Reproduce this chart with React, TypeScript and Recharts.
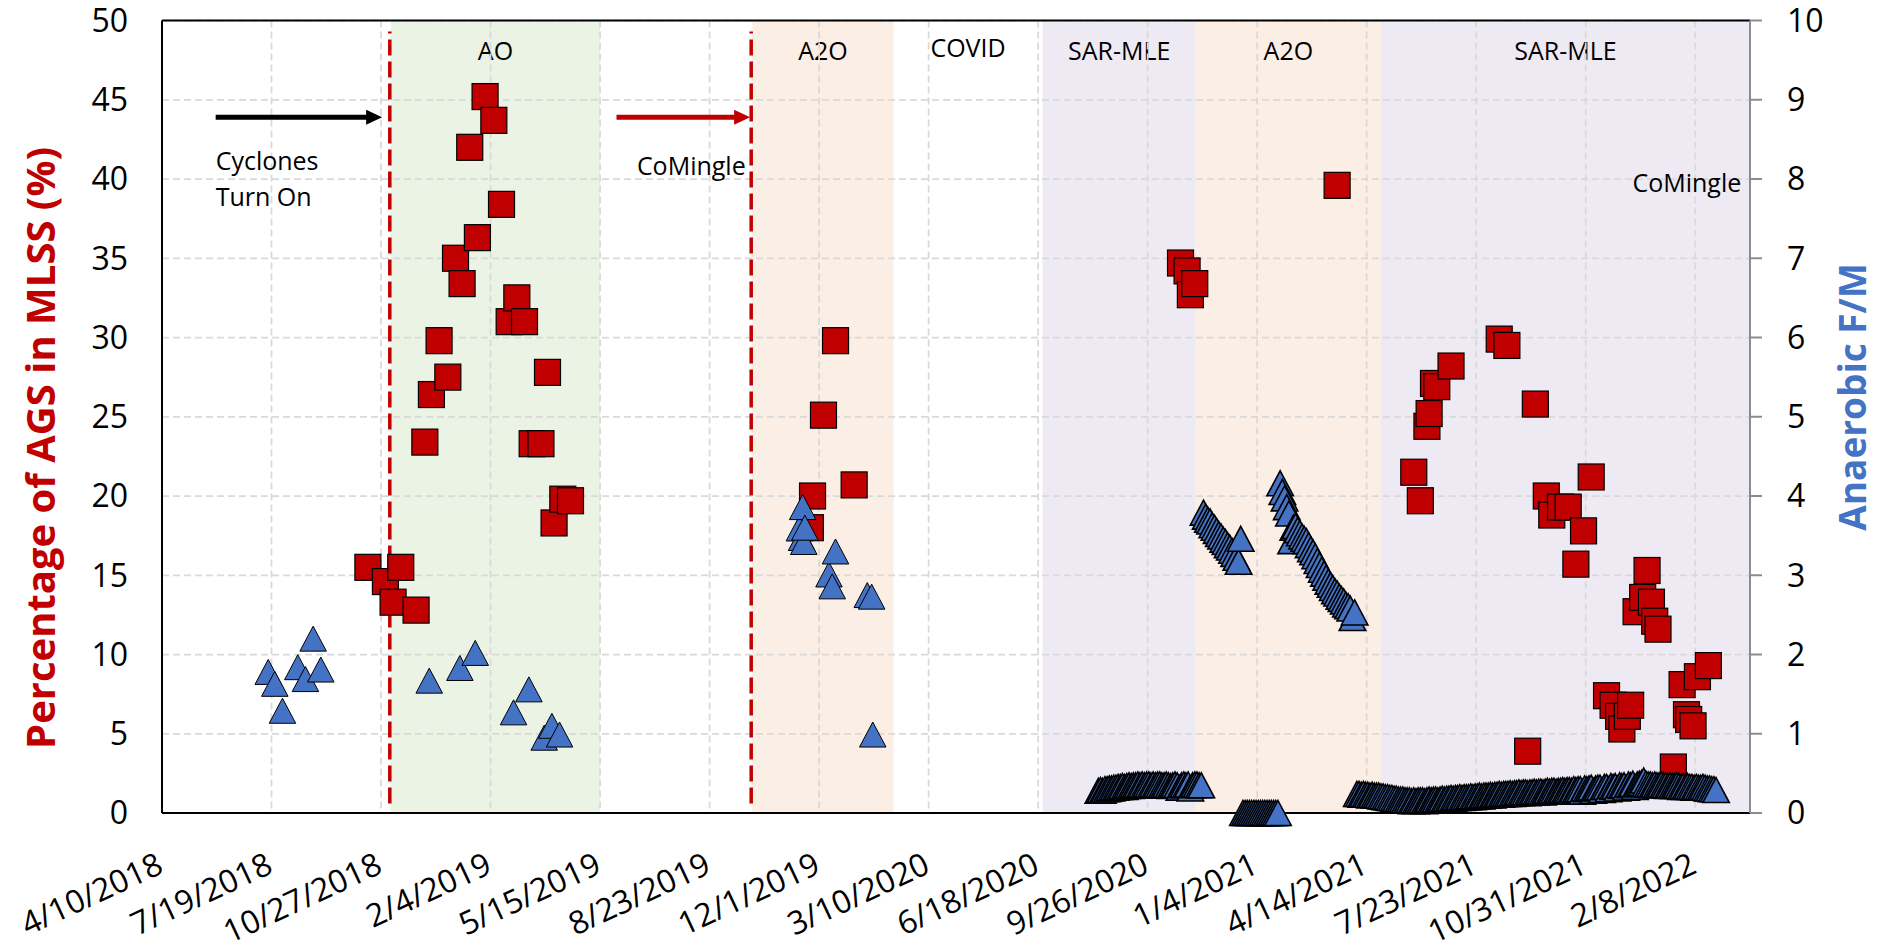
// AGS share in MLSS (red squares, left axis) against anaerobic F/M
// (blue triangles, right axis), with the process phases shaded behind.
import {
  ComposedChart,
  Scatter,
  XAxis,
  YAxis,
  CartesianGrid,
  ReferenceArea,
  ReferenceLine,
  ReferenceDot,
} from 'recharts';

type Pt = [string, number];
interface Run {
  start: string;
  step: number;
  values: number[];
}

// ---- axes ----
const xTickLabels = [
  '4/10/2018', '7/19/2018', '10/27/2018', '2/4/2019', '5/15/2019',
  '8/23/2019', '12/1/2019', '3/10/2020', '6/18/2020', '9/26/2020',
  '1/4/2021', '4/14/2021', '7/23/2021', '10/31/2021', '2/8/2022',
];
const xEnd = '3/30/2022';
const agsTicks = [0, 5, 10, 15, 20, 25, 30, 35, 40, 45, 50];
const fmTicks = [0, 1, 2, 3, 4, 5, 6, 7, 8, 9, 10];

// ---- phases ----
const phaseNames = ['AO', 'A2O', 'COVID', 'SAR-MLE', 'A2O', 'SAR-MLE'];
const phaseStarts = ['11/5/2018', '10/1/2019', '2/7/2020', '6/22/2020', '11/9/2020', '4/27/2021'];
const phaseEnds = ['5/15/2019', '2/7/2020', '6/22/2020', '11/9/2020', '4/27/2021', '3/30/2022'];
const switchDates = ['11/4/2018', '9/30/2019'];

// ---- % AGS in MLSS ----
const agsAO: Pt[] = [
  ['10/15/2018', 15.5], ['10/31/2018', 14.6], ['11/7/2018', 13.3], ['11/14/2018', 15.5],
  ['11/28/2018', 12.8], ['12/6/2018', 23.4], ['12/12/2018', 26.4], ['12/19/2018', 29.8],
  ['12/27/2018', 27.5], ['1/3/2019', 35.0], ['1/9/2019', 33.4], ['1/16/2019', 42.0],
  ['1/23/2019', 36.3], ['1/30/2019', 45.2], ['2/7/2019', 43.7], ['2/14/2019', 38.4],
  ['2/21/2019', 31.0], ['2/28/2019', 32.5], ['3/7/2019', 31.0], ['3/14/2019', 23.3],
  ['3/22/2019', 23.3], ['3/28/2019', 27.8], ['4/3/2019', 18.3], ['4/11/2019', 19.8],
  ['4/18/2019', 19.7],
];
const agsA2O: Pt[] = [
  ['11/23/2019', 18.0], ['11/25/2019', 20.0], ['12/5/2019', 25.1], ['12/16/2019', 29.8],
  ['1/2/2020', 20.7],
];
const agsSarMle1: Pt[] = [
  ['10/26/2020', 34.7], ['11/1/2020', 34.2], ['11/4/2020', 32.7], ['11/8/2020', 33.4],
];
const agsA2O2: Pt[] = [['3/18/2021', 39.6]];
const agsSarMle2: Pt[] = [
  ['5/27/2021', 21.5], ['6/2/2021', 19.7], ['6/8/2021', 24.4], ['6/10/2021', 25.2],
  ['6/14/2021', 27.1], ['6/17/2021', 26.9], ['6/30/2021', 28.2], ['8/13/2021', 29.9],
  ['8/20/2021', 29.5], ['9/8/2021', 3.9], ['9/15/2021', 25.8], ['9/25/2021', 20.0],
  ['9/30/2021', 18.8], ['10/8/2021', 19.3], ['10/15/2021', 19.3], ['10/22/2021', 15.7],
  ['10/29/2021', 17.8], ['11/5/2021', 21.2], ['11/19/2021', 7.4], ['11/25/2021', 6.8],
  ['11/30/2021', 6.1], ['12/3/2021', 5.3], ['12/8/2021', 6.1], ['12/11/2021', 6.8],
  ['12/16/2021', 12.7], ['12/22/2021', 13.6], ['12/26/2021', 15.3], ['12/30/2021', 13.3],
  ['1/2/2022', 12.1], ['1/5/2022', 11.6], ['1/19/2022', 2.9], ['1/27/2022', 8.1],
  ['1/31/2022', 6.2], ['2/2/2022', 5.9], ['2/6/2022', 5.5], ['2/10/2022', 8.6],
  ['2/20/2022', 9.3],
];

// ---- anaerobic F/M ----
const fmPre: Pt[] = [
  ['7/16/2018', 1.78], ['7/22/2018', 1.63], ['7/29/2018', 1.29], ['8/12/2018', 1.84],
  ['8/19/2018', 1.69], ['8/26/2018', 2.2], ['9/2/2018', 1.81],
];
const fmAO: Pt[] = [
  ['12/10/2018', 1.67], ['1/7/2019', 1.83], ['1/21/2019', 2.02], ['2/25/2019', 1.27],
  ['3/11/2019', 1.56], ['3/25/2019', 0.95], ['4/1/2019', 1.1], ['4/8/2019', 0.99],
];
const fmA2O: Pt[] = [
  ['11/13/2019', 3.59], ['11/15/2019', 3.47], ['11/16/2019', 3.86], ['11/17/2019', 3.42],
  ['11/18/2019', 3.6], ['12/10/2019', 3.01], ['12/13/2019', 2.86], ['12/16/2019', 3.3],
  ['1/14/2020', 2.75], ['1/18/2020', 2.73], ['1/19/2020', 0.99],
];
// daily logging from Aug 2020 on, read every second day
const fmSarMle1: Run = {
  start: '8/12/2020', step: 2,
  values: [
    0.28, 0.29, 0.28, 0.3, 0.3, 0.31, 0.31, 0.32, 0.32, 0.33,
    0.33, 0.34, 0.33, 0.34, 0.35, 0.34, 0.35, 0.35, 0.36, 0.35,
    0.36, 0.35, 0.36, 0.36, 0.35, 0.36, 0.35, 0.36, 0.36, 0.35,
    0.35, 0.36, 0.35, 0.34, 0.35, 0.36, 0.35, 0.32, 0.35, 0.36,
    0.35, 0.36, 0.31, 0.35, 0.36, 0.36, 0.35, 0.35,
  ],
};
const fmDrop1: Run = {
  start: '11/16/2020', step: 2,
  values: [
    3.79, 3.74, 3.7, 3.68, 3.63, 3.6, 3.56, 3.52, 3.49, 3.45,
    3.42, 3.38, 3.35, 3.31, 3.27, 3.22, 3.17, 3.46,
  ],
};
const fmOff: Run = {
  start: '12/22/2020', step: 2,
  values: [0, 0, 0, 0, 0, 0, 0, 0, 0, 0, 0, 0, 0, 0, 0, 0, 0],
};
const fmDrop2: Run = {
  start: '1/25/2021', step: 2,
  values: [
    4.16, 4.05, 3.97, 3.86, 3.78, 3.43, 3.6, 3.62, 3.57, 3.53,
    3.49, 3.46, 3.43, 3.38, 3.33, 3.29, 3.24, 3.18, 3.13, 3.07,
    3.02, 2.97, 2.92, 2.88, 2.84, 2.8, 2.77, 2.73, 2.7, 2.67,
    2.63, 2.61, 2.58, 2.46, 2.53,
  ],
};
const fmSarMle2: Run = {
  start: '4/5/2021', step: 2,
  values: [
    0.24, 0.24, 0.23, 0.24, 0.23, 0.23, 0.22, 0.23, 0.22, 0.22,
    0.22, 0.21, 0.21, 0.2, 0.2, 0.19, 0.19, 0.18, 0.18, 0.17,
    0.17, 0.17, 0.16, 0.16, 0.16, 0.15, 0.16, 0.15, 0.16, 0.16,
    0.16, 0.15, 0.16, 0.17, 0.16, 0.17, 0.17, 0.16, 0.17, 0.18,
    0.17, 0.18, 0.18, 0.19, 0.18, 0.19, 0.19, 0.2, 0.19, 0.2,
    0.2, 0.2, 0.21, 0.2, 0.21, 0.21, 0.22, 0.21, 0.22, 0.22,
    0.22, 0.23, 0.22, 0.23, 0.23, 0.24, 0.23, 0.24, 0.24, 0.24,
    0.25, 0.24, 0.25, 0.25, 0.26, 0.25, 0.26, 0.26, 0.25, 0.26,
    0.26, 0.27, 0.26, 0.27, 0.27, 0.26, 0.27, 0.28, 0.27, 0.28,
    0.28, 0.27, 0.28, 0.28, 0.29, 0.28, 0.29, 0.29, 0.28, 0.3,
    0.29, 0.3, 0.3, 0.27, 0.31, 0.3, 0.31, 0.32, 0.28, 0.31,
    0.32, 0.32, 0.29, 0.33, 0.33, 0.3, 0.34, 0.33, 0.34, 0.31,
    0.35, 0.34, 0.35, 0.32, 0.36, 0.35, 0.37, 0.33, 0.36, 0.37,
    0.38, 0.41, 0.37, 0.36, 0.36, 0.35, 0.36, 0.35, 0.35, 0.36,
    0.35, 0.35, 0.34, 0.35, 0.34, 0.34, 0.35, 0.34, 0.33, 0.34,
    0.33, 0.34, 0.33, 0.33, 0.32, 0.33, 0.32, 0.32, 0.33, 0.32,
    0.31, 0.31, 0.3, 0.3, 0.29,
  ],
};

// ---- annotations ----
const notes = [
  { text: 'Cyclones', date: '5/29/2018', value: 40.55, anchor: 'start' },
  { text: 'Turn On', date: '5/29/2018', value: 38.32, anchor: 'start' },
  { text: 'CoMingle', date: '9/25/2019', value: 40.23, anchor: 'end' },
  { text: 'CoMingle', date: '3/22/2022', value: 39.16, anchor: 'end' },
];
const arrows = [
  { from: '5/29/2018', to: '10/28/2018', value: 43.9, color: '#000000' },
  { from: '5/30/2019', to: '9/29/2019', value: 43.9, color: '#C00000' },
];

const DAY = 86400000;
const BASE = Date.UTC(2018, 3, 10);
const toDay = (s: string) => {
  const [m, d, y] = s.split('/').map(Number);
  return Math.round((Date.UTC(y, m - 1, d) - BASE) / DAY);
};
const fmtDay = (n: number) => {
  const dt = new Date(BASE + Math.round(n) * DAY);
  return `${dt.getUTCMonth() + 1}/${dt.getUTCDate()}/${dt.getUTCFullYear()}`;
};
const fromPts = (rows: Pt[]) => rows.map(([d, v]) => ({ x: toDay(d), y: v }));
const fromRun = (r: Run) => r.values.map((v, i) => ({ x: toDay(r.start) + i * r.step, y: v }));

const agsData = fromPts([...agsAO, ...agsA2O, ...agsSarMle1, ...agsA2O2, ...agsSarMle2]);
const fmWeekly = fromPts([...fmPre, ...fmAO, ...fmA2O]);
const fmDaily = [
  ...fromRun(fmSarMle1),
  ...fromRun(fmDrop1),
  ...fromRun(fmOff),
  ...fromRun(fmDrop2),
  ...fromRun(fmSarMle2),
];

const RED = '#C00000';
const BLUE = '#4472C4';
const PHASE_FILL: Record<string, string> = {
  AO: '#EBF3E5',
  A2O: '#FBEEE5',
  'SAR-MLE': '#EEEAF4',
  COVID: 'none',
};

const Square = (p: any) => (
  <rect x={p.cx - 13} y={p.cy - 13} width={26} height={26} fill={RED} stroke="#000" strokeWidth={1.2} />
);
const triangle = (outline: number) => (p: any) => (
  <path
    d={`M${p.cx},${p.cy - 12.5}L${p.cx + 13.25},${p.cy + 12.5}L${p.cx - 13.25},${p.cy + 12.5}Z`}
    fill={BLUE}
    stroke="#000"
    strokeWidth={outline}
  />
);

const DateTick = (p: any) => {
  const tx = p.x + 3;
  const ty = p.y + 59;
  return (
    <text x={tx} y={ty} transform={`rotate(-25 ${tx} ${ty})`} textAnchor="end" fontSize={32} fill="#000">
      {fmtDay(p.payload.value)}
    </text>
  );
};

const arrowShape = (color: string) => (p: any) => {
  const { x1, y1, x2, y2 } = p;
  return (
    <g>
      <line x1={x1} y1={y1} x2={x2 - 14} y2={y2} stroke={color} strokeWidth={5} />
      <polygon points={`${x2},${y2} ${x2 - 16},${y2 - 7.5} ${x2 - 16},${y2 + 7.5}`} fill={color} />
    </g>
  );
};

const phaseLabel = (name: string) => (p: any) => {
  const vb = p.viewBox ?? p;
  return (
    <text x={vb.x + vb.width / 2} y={vb.y + (name === 'COVID' ? 36 : 39)} textAnchor="middle" fontSize={25} fill="#000">
      {name}
    </text>
  );
};

export default function App() {
  return (
    <div style={{ position: 'absolute', left: 0, top: 0, fontFamily: '"Open Sans", sans-serif' }}>
      <ComposedChart width={1886} height={947} margin={{ top: 20.5, right: 0, bottom: 0, left: 0 }}>
        {phaseNames.map((name, i) => (
          <ReferenceArea
            key={`ph${i}`}
            yAxisId="left"
            x1={toDay(phaseStarts[i])}
            x2={toDay(phaseEnds[i])}
            y1={0}
            y2={50}
            fill={PHASE_FILL[name]}
            fillOpacity={1}
            stroke="none"
            label={phaseLabel(name)}
          />
        ))}
        <CartesianGrid
          yAxisId="left"
          stroke="#D9D9D9"
          strokeWidth={1.75}
          strokeDasharray="7 4"
          zIndex={150}
        />
        <XAxis
          type="number"
          dataKey="x"
          domain={[0, toDay(xEnd)]}
          ticks={xTickLabels.map(toDay)}
          interval={0}
          allowDataOverflow
          height={134}
          tickLine={false}
          tickSize={0}
          tickMargin={0}
          tick={DateTick}
          axisLine={{ stroke: '#000', strokeWidth: 2 }}
        />
        <YAxis
          yAxisId="left"
          dataKey="y"
          type="number"
          domain={[0, 50]}
          ticks={agsTicks}
          interval={0}
          width={162}
          tickLine={false}
          tickSize={0}
          tickMargin={34}
          tick={{ fill: '#000', fontSize: 32 }}
          axisLine={{ stroke: '#000', strokeWidth: 2 }}
          label={() => (
            <text
              x={55}
              y={448}
              transform="rotate(-90 55 448)"
              textAnchor="middle"
              fontSize={40}
              fontWeight={700}
              fill={RED}
            >
              Percentage of AGS in MLSS (%)
            </text>
          )}
        />
        <YAxis
          yAxisId="right"
          orientation="right"
          dataKey="y"
          type="number"
          domain={[0, 10]}
          ticks={fmTicks}
          interval={0}
          width={136}
          tickSize={12}
          tickMargin={25}
          tickLine={{ stroke: '#8C8C8C', strokeWidth: 2 }}
          tick={{ fill: '#000', fontSize: 32, textAnchor: 'start' }}
          axisLine={{ stroke: '#8C8C8C', strokeWidth: 2 }}
          label={() => (
            <text
              x={1866}
              y={397}
              transform="rotate(-90 1866 397)"
              textAnchor="middle"
              fontSize={37}
              fontWeight={700}
              fill={BLUE}
            >
              Anaerobic F/M
            </text>
          )}
        />
        <ReferenceLine yAxisId="left" y={50} stroke="#000" strokeWidth={2} />
        {switchDates.map((d) => (
          <ReferenceLine
            key={d}
            yAxisId="left"
            segment={[{ x: toDay(d), y: 0.6 }, { x: toDay(d), y: 49.3 }]}
            stroke={RED}
            strokeWidth={3.5}
            strokeDasharray="16 6"
          />
        ))}
        {arrows.map((a) => (
          <ReferenceLine
            key={a.from}
            yAxisId="left"
            segment={[{ x: toDay(a.from), y: a.value }, { x: toDay(a.to), y: a.value }]}
            stroke={a.color}
            shape={arrowShape(a.color)}
          />
        ))}
        <Scatter data={agsData} yAxisId="left" shape={Square} isAnimationActive={false} />
        <Scatter data={fmWeekly} yAxisId="right" shape={triangle(1)} isAnimationActive={false} />
        <Scatter data={fmDaily} yAxisId="right" shape={triangle(1.6)} isAnimationActive={false} />
        {notes.map((n, i) => (
          <ReferenceDot
            key={`n${i}`}
            yAxisId="left"
            x={toDay(n.date)}
            y={n.value}
            r={0}
            ifOverflow="visible"
            shape={(p: any) => (
              <text x={p.cx} y={p.cy} textAnchor={n.anchor} fontSize={25} fill="#000">
                {n.text}
              </text>
            )}
          />
        ))}
      </ComposedChart>
    </div>
  );
}
